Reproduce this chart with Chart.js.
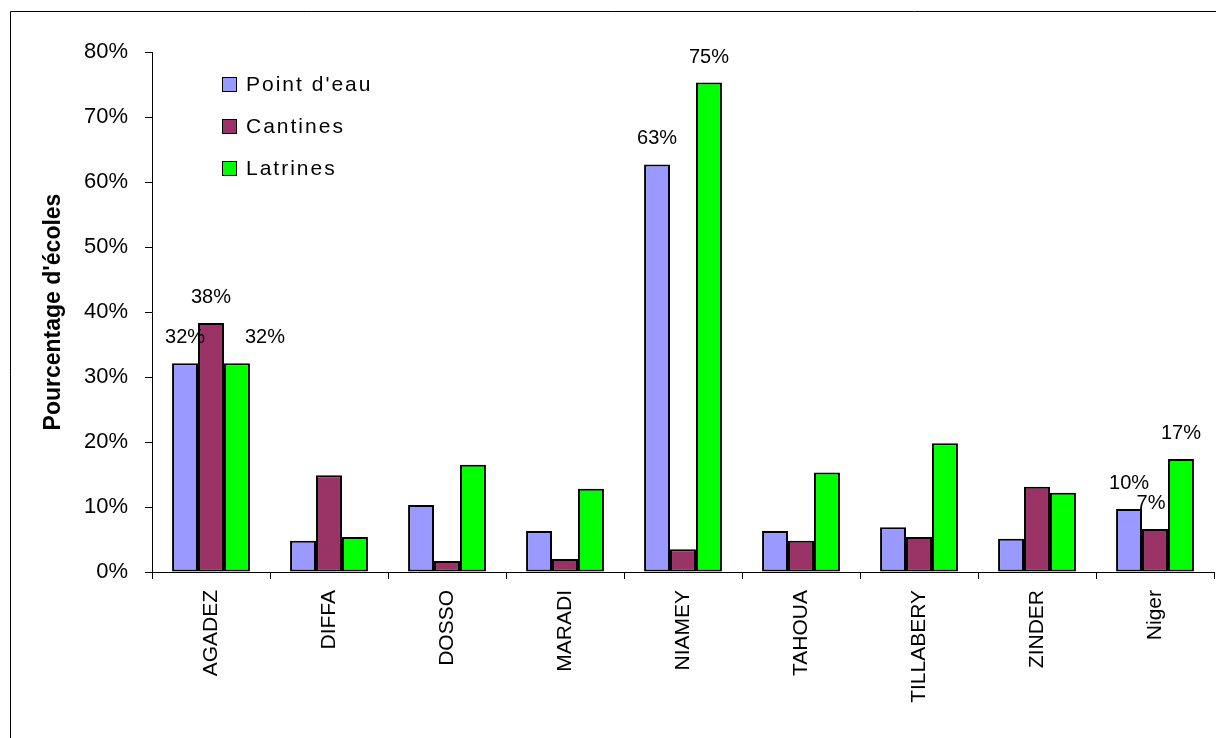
<!DOCTYPE html>
<html>
<head>
<meta charset="utf-8">
<script src="https://cdn.jsdelivr.net/npm/chart.js@4.4.1/dist/chart.umd.min.js"></script>
<style>
  html, body { margin: 0; padding: 0; background: #fff; }
  #wrap { width: 1216px; height: 738px; position: relative; }
</style>
</head>
<body>
<div id="wrap"><canvas id="chart"></canvas></div>
<script>
const regions = ["AGADEZ", "DIFFA", "DOSSO", "MARADI", "NIAMEY", "TAHOUA", "TILLABERY", "ZINDER", "Niger"];
const pointEau = [32.1, 4.8, 10.3, 6.3, 62.7, 6.3, 6.9, 5.1, 9.7];
const cantines = [38.3, 14.9, 1.7, 2.0, 3.5, 4.8, 5.4, 13.1, 6.6];
const latrines = [32.1, 5.4, 16.5, 12.8, 75.3, 15.3, 19.8, 12.2, 17.4];
const yTicks = [0, 10, 20, 30, 40, 50, 60, 70, 80];

// which bars carry a value label: [region index, series index]
const labelled = [[0, 0], [0, 1], [0, 2], [4, 0], [4, 2], [8, 0], [8, 1], [8, 2]];
const labelShift = { "0-2": 28, "8-1": -4 };

const FONT = "'Liberation Sans', Arial, sans-serif";

const extras = {
  id: "extras",
  beforeDraw(chart) {
    const ctx = chart.ctx;
    ctx.save();
    ctx.fillStyle = "#fff";
    ctx.fillRect(0, 0, chart.width, chart.height);
    // outer frame (only left and top are inside the picture)
    ctx.strokeStyle = "#000";
    ctx.lineWidth = 1;
    ctx.beginPath();
    ctx.moveTo(10.5, chart.height);
    ctx.lineTo(10.5, 11.5);
    ctx.lineTo(chart.width, 11.5);
    ctx.stroke();
    ctx.restore();
  },
  afterDatasetsDraw(chart) {
    const ctx = chart.ctx;
    const area = chart.chartArea;
    ctx.save();
    ctx.fillStyle = "#000";
    ctx.font = "20px " + FONT;
    ctx.textAlign = "center";
    ctx.textBaseline = "alphabetic";
    labelled.forEach(([i, d]) => {
      const bar = chart.getDatasetMeta(d).data[i];
      const v = chart.data.datasets[d].data[i];
      const dx = labelShift[i + "-" + d] || 0;
      ctx.fillText(Math.round(v) + "%", bar.x + dx, bar.y - 20);
    });

    // legend inside the plot
    ctx.font = "21px " + FONT;
    if ("letterSpacing" in ctx) ctx.letterSpacing = "2px";
    ctx.textAlign = "left";
    ctx.textBaseline = "middle";
    chart.data.datasets.forEach((ds, k) => {
      const bx = area.left + 70;
      const cy = area.top + 32 + k * 42;
      ctx.fillStyle = ds.backgroundColor;
      ctx.fillRect(bx, cy - 7, 14, 14);
      ctx.strokeStyle = "#000";
      ctx.lineWidth = 1;
      ctx.strokeRect(bx + 0.5, cy - 6.5, 14, 14);
      ctx.fillStyle = "#000";
      ctx.fillText(ds.label, bx + 24, cy + 1);
    });
    ctx.restore();
  },
};

new Chart(document.getElementById("chart"), {
  type: "bar",
  data: {
    labels: regions,
    datasets: [
      { label: "Point d'eau", data: pointEau, backgroundColor: "#9999ff" },
      { label: "Cantines", data: cantines, backgroundColor: "#993366" },
      { label: "Latrines", data: latrines, backgroundColor: "#00ff00" },
    ].map((ds) => ({
      ...ds,
      borderColor: "#000",
      borderWidth: 2,
      borderSkipped: false,
      categoryPercentage: 0.66,
      barPercentage: 1,
    })),
  },
  options: {
    responsive: true,
    maintainAspectRatio: false,
    animation: false,
    layout: { padding: { top: 52, right: 2, left: 0, bottom: 0 } },
    plugins: {
      legend: { display: false },
      tooltip: { enabled: false },
    },
    scales: {
      x: {
        grid: { display: true, drawOnChartArea: false, offset: true, tickLength: 7, color: "#000" },
        border: { display: true, color: "#000", width: 1 },
        ticks: {
          color: "#000",
          font: { family: FONT, size: 21 },
          minRotation: 90,
          maxRotation: 90,
          autoSkip: false,
          padding: 11,
        },
        afterFit: (scale) => { scale.height = 166; },
      },
      y: {
        min: 0,
        max: 80,
        afterBuildTicks: (scale) => { scale.ticks = yTicks.map((v) => ({ value: v })); },
        grid: { display: true, drawOnChartArea: false, tickLength: 7, color: "#000" },
        border: { display: true, color: "#000", width: 1 },
        ticks: {
          color: "#000",
          font: { family: FONT, size: 22 },
          padding: 17,
          callback: (v) => v + "%",
        },
        title: {
          display: true,
          text: "Pourcentage d'écoles",
          color: "#000",
          font: { family: FONT, size: 23, weight: "bold" },
          padding: { top: 40, bottom: 0 },
        },
        afterFit: (scale) => { scale.width = 152; },
      },
    },
  },
  plugins: [extras],
});
</script>
</body>
</html>
